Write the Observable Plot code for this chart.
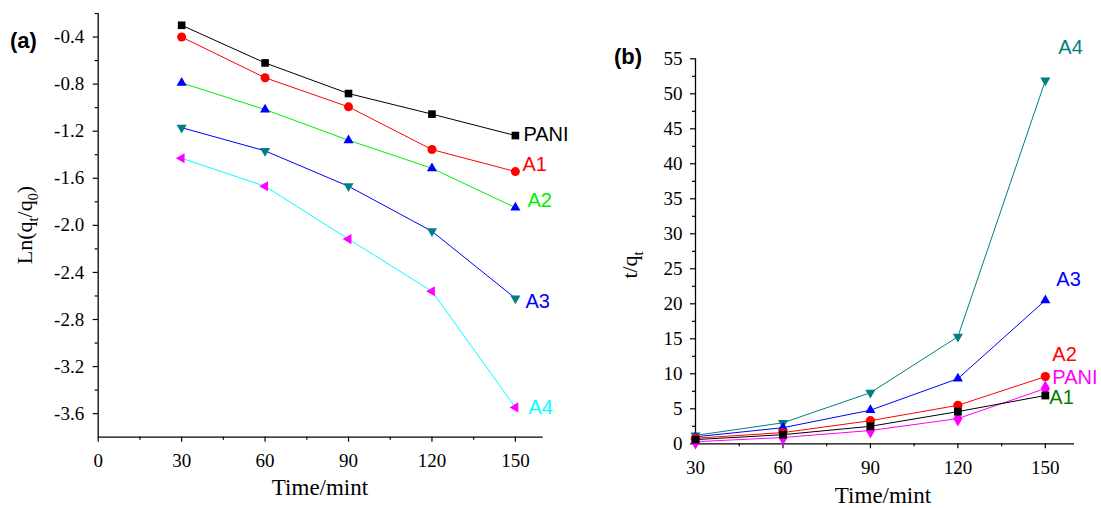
<!DOCTYPE html>
<html><head><meta charset="utf-8">
<script src="https://cdn.jsdelivr.net/npm/d3@7"></script>
<script src="https://cdn.jsdelivr.net/npm/@observablehq/plot@0.6"></script>
<style>
body{margin:0;background:#fff;}
#wrap{position:relative;width:1101px;height:508px;overflow:hidden;background:#fff;}
#wrap svg{position:absolute;top:0;overflow:visible;}
#wrap svg text{font-family:"Liberation Serif","Times New Roman",Times,serif !important;font-weight:normal !important;}
#wrap svg g.sname text{font-family:"Liberation Sans",Arial,Helvetica,sans-serif !important;}
.lab{position:absolute;font:bold 22px "Liberation Sans",Arial,sans-serif;color:#000;}
</style></head><body><div id="wrap"></div>
<script>
// ---------- data ----------
const times = [30, 60, 90, 120, 150];

// panel (a): Ln(qt/q0)
const lnPANI = [-0.30, -0.62, -0.88, -1.055, -1.237];
const lnA1   = [-0.40, -0.746, -0.993, -1.356, -1.543];
const lnA2   = [-0.79, -1.016, -1.277, -1.515, -1.85];
const lnA3   = [-1.17, -1.367, -1.668, -2.05, -2.62];
const lnA4   = [-1.43, -1.668, -2.117, -2.56, -3.547];

// panel (b): t/qt
const tqA4   = [1.2, 3.0, 7.3, 15.3, 51.9];
const tqA3   = [1.0, 2.3, 4.8, 9.3, 20.5];
const tqA2   = [0.8, 1.6, 3.3, 5.5, 9.6];
const tqPANI = [0.3, 0.9, 1.9, 3.6, 7.9];
const tqA1   = [0.6, 1.3, 2.5, 4.6, 6.9];

// axis ticks
const aXTicks = [0, 30, 60, 90, 120, 150];
const aXMinor = [15, 45, 75, 105, 135];
const aYTicks = [-0.4, -0.8, -1.2, -1.6, -2.0, -2.4, -2.8, -3.2, -3.6];
const aYMinor = [-0.2, -0.6, -1.0, -1.4, -1.8, -2.2, -2.6, -3.0, -3.4];
const bXTicks = [30, 60, 90, 120, 150];
const bXMinor = [45, 75, 105, 135];
const bYTicks = [0, 5, 10, 15, 20, 25, 30, 35, 40, 45, 50, 55];
const bYMinor = [2.5, 7.5, 12.5, 17.5, 22.5, 27.5, 32.5, 37.5, 42.5, 47.5, 52.5];

// ---------- custom symbols ----------
function tri(dir) {
  return {draw(ctx, size) {
    const r = Math.sqrt(size / Math.PI);
    const s = r * 2.3, h = s * Math.sqrt(3) / 2;
    const a = 2 * h / 3, b = h / 3;
    if (dir === "up") { ctx.moveTo(0, -a); ctx.lineTo(s/2, b); ctx.lineTo(-s/2, b); }
    if (dir === "down") { ctx.moveTo(0, a); ctx.lineTo(s/2, -b); ctx.lineTo(-s/2, -b); }
    if (dir === "left") { ctx.moveTo(-a, 0); ctx.lineTo(b, s/2); ctx.lineTo(b, -s/2); }
    ctx.closePath();
  }};
}
const triUp = tri("up"), triDown = tri("down"), triLeft = tri("left");

const serif = '"Liberation Serif","Times New Roman",serif';
const sans = '"Liberation Sans",Arial,sans-serif';

const seriesA = [
  {name: "PANI", y: lnPANI, line: "#000000", fill: "#000000", symbol: "square", r: 4.3, lab: "#000000", dx: 8, dy: -1},
  {name: "A1", y: lnA1, line: "#ff0000", fill: "#ff0000", symbol: "circle", r: 4.5, lab: "#ff0000", dx: 7, dy: -7},
  {name: "A2", y: lnA2, line: "#00ee00", fill: "#0000ff", symbol: triUp, r: 4.4, lab: "#00ee00", dx: 12, dy: -7},
  {name: "A3", y: lnA3, line: "#0000ff", fill: "#008080", symbol: triDown, r: 4.4, lab: "#0000ff", dx: 10, dy: 3},
  {name: "A4", y: lnA4, line: "#00ffff", fill: "#ff00ff", symbol: triLeft, r: 4.4, lab: "#00ffff", dx: 13, dy: 0}
];
const seriesB = [
  {name: "A4", y: tqA4, line: "#008080", fill: "#008080", symbol: triDown, r: 4.4, lab: "#008080", dx: 13, dy: -33},
  {name: "A3", y: tqA3, line: "#0000ff", fill: "#0000ff", symbol: triUp, r: 4.4, lab: "#0000ff", dx: 11, dy: -21},
  {name: "A2", y: tqA2, line: "#ff0000", fill: "#ff0000", symbol: "circle", r: 4.6, lab: "#ff0000", dx: 7, dy: -22},
  {name: "PANI", y: tqPANI, line: "#ff00ff", fill: "#ff00ff", symbol: "diamond", r: 4.8, lab: "#ff00ff", dx: 7, dy: -11},
  {name: "A1", y: tqA1, line: "#000000", fill: "#000000", symbol: "square", r: 4.4, lab: "#008000", dx: 4, dy: 2}
];

function panel(o) {
  const marks = [
    Plot.ruleX([o.xDomain[0]], {strokeWidth: 1.3}),
    Plot.ruleY([o.yDomain[0]], {strokeWidth: 1.3}),
    Plot.axisX(o.xTicks, {label: null, tickSize: 5, tickPadding: o.xPad, fontSize: o.tickFont, tickFormat: d => String(d), strokeWidth: 1.2}),
    Plot.axisX(o.xMinor, {label: null, tickSize: 3, tickFormat: () => "", strokeWidth: 1.2}),
    Plot.axisY(o.yTicks, {label: null, tickSize: 5, tickPadding: o.yPad, fontSize: o.tickFont, tickFormat: o.yFmt, strokeWidth: 1.2}),
    Plot.axisY(o.yMinor, {label: null, tickSize: 3, tickFormat: () => "", strokeWidth: 1.2})
  ];
  for (const s of o.series) {
    const data = times.map((t, i) => ({t, v: s.y[i]}));
    marks.push(Plot.line(data, {x: "t", y: "v", stroke: s.line, strokeWidth: 1}));
  }
  for (const s of o.series) {
    const data = times.map((t, i) => ({t, v: s.y[i]}));
    marks.push(Plot.dot(data, {x: "t", y: "v", symbol: () => s.symbol, fill: s.fill, r: s.r, stroke: "none"}));
    marks.push(Plot.text([data[data.length - 1]], {x: "t", y: "v", text: () => s.name, dx: s.dx, dy: s.dy,
      textAnchor: "start", fill: s.lab, fontSize: o.labFont, fontFamily: sans, className: "sname"}));
  }
  return Plot.plot({
    width: o.width, height: 508,
    marginLeft: o.ml, marginRight: o.mr, marginTop: o.mt, marginBottom: o.mb,
    x: {domain: o.xDomain, axis: null},
    y: {domain: o.yDomain, axis: null},
    symbol: {type: "identity"},
    style: {background: "transparent", color: "#000"},
    marks
  });
}

const wrap = document.getElementById("wrap");

const svgA = panel({
  width: 550, ml: 97.7, mr: 7.3, mt: 13, mb: 71.3,
  xDomain: [0, 160], yDomain: [-3.8, -0.2],
  xTicks: aXTicks, xMinor: aXMinor, yTicks: aYTicks, yMinor: aYMinor,
  yFmt: d => d.toFixed(1), xPad: 11, yPad: 9, tickFont: 19, labFont: 20, series: seriesA
});
svgA.style.left = "0px";
wrap.appendChild(svgA);

const svgB = panel({
  width: 551, ml: 145, mr: 27, mt: 58.3, mb: 64.7,
  xDomain: [30, 160], yDomain: [0, 55],
  xTicks: bXTicks, xMinor: bXMinor, yTicks: bYTicks, yMinor: bYMinor,
  yFmt: d => String(d), xPad: 12, yPad: 8, tickFont: 19, labFont: 20, series: seriesB
});
svgB.style.left = "550px";
wrap.appendChild(svgB);

// axis titles with subscripts
function title(svg, x, y, rotate, parts, size) {
  const t = d3.select(svg).append("text")
    .attr("transform", `translate(${x},${y})` + (rotate ? " rotate(-90)" : ""))
    .attr("text-anchor", "middle").attr("font-family", serif).attr("font-size", size).attr("fill", "#000");
  let shifted = false;
  for (const [txt, sub] of parts) {
    const sp = t.append("tspan").text(txt);
    if (sub) { sp.attr("font-size", size * 0.65).attr("dy", size * 0.25); shifted = true; }
    else if (shifted) { sp.attr("dy", -size * 0.25); shifted = false; }
  }
}
title(svgA, 320, 495, false, [["Time/mint", false]], 23);
title(svgA, 32, 225, true, [["Ln(q", false], ["t", true], ["/q", false], ["0", true], [")", false]], 22);
title(svgB, 333, 503, false, [["Time/mint", false]], 23);
title(svgB, 87, 265, true, [["t/q", false], ["t", true]], 22);

// panel letters
for (const [txt, x, y] of [["(a)", 10, 28], ["(b)", 614, 44]]) {
  const d = document.createElement("div");
  d.className = "lab"; d.textContent = txt;
  d.style.left = x + "px"; d.style.top = y + "px";
  wrap.appendChild(d);
}
</script></body></html>
